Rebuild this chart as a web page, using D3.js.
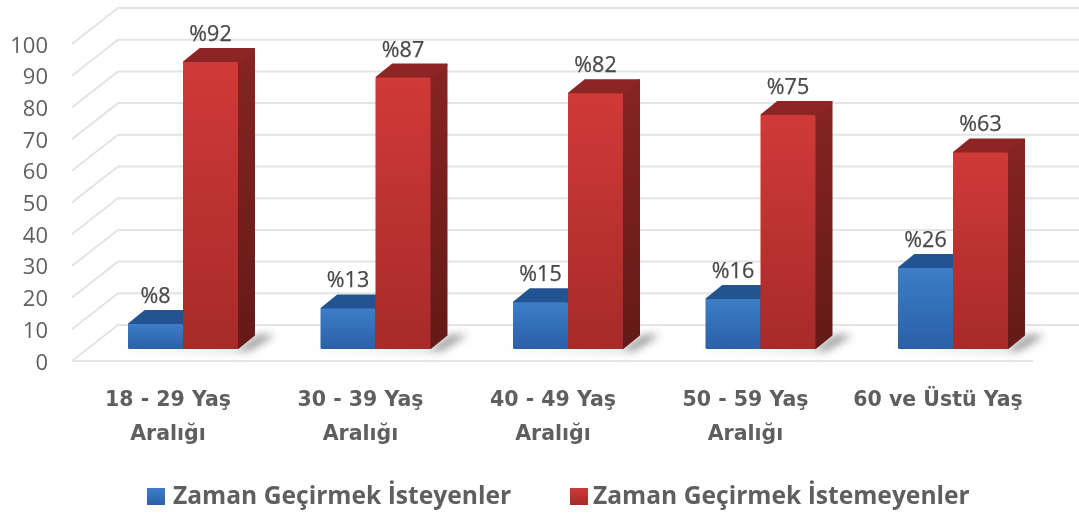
<!DOCTYPE html>
<html><head><meta charset="utf-8">
<script src="https://cdn.jsdelivr.net/npm/d3@7/dist/d3.min.js"></script>
<style>html,body{margin:0;padding:0;background:#fff;overflow:hidden}svg{display:block;filter:blur(.55px)}text{font-family:"Open Sans",sans-serif}</style>
</head><body><svg id="c" width="1079" height="513"></svg>
<script>
const categories=["18 - 29 Yaş|Aralığı","30 - 39 Yaş|Aralığı","40 - 49 Yaş|Aralığı","50 - 59 Yaş|Aralığı","60 ve Üstü Yaş"];
const seriesNames=["Zaman Geçirmek İsteyenler","Zaman Geçirmek İstemeyenler"];
const isteyenler=[8,13,15,16,26];
const istemeyenler=[92,87,82,75,63];
const ticks=[0,10,20,30,40,50,60,70,80,90,100];

const svg=d3.select("#c"),defs=svg.append("defs");
const W=1079,depthX=46,depthY=36,barDX=17,barDY=14;
const yFront=d3.scaleLinear().domain([0,100]).range([361,44]);
const yBar=d3.scaleLinear().domain([0,100]).range([349,37]);
const x=d3.scaleBand().domain(categories).range([86.75,1049.25]);
const barW=55;

function grad(id,stops,vert=true){const g=defs.append("linearGradient").attr("id",id).attr("x1",0).attr("y1",0).attr("x2",vert?0:1).attr("y2",vert?1:0);
 stops.forEach(([o,c])=>g.append("stop").attr("offset",o).attr("stop-color",c));}
grad("bf",[[0,"#3c7ec8"],[1,"#2a60a6"]]);grad("rf",[[0,"#d03a38"],[1,"#a62b29"]]);
grad("bs",[[0,"#1f4a85"],[1,"#1a3f73"]]);grad("rs",[[0,"#872422"],[1,"#631a18"]]);
const blur=defs.append("filter").attr("id","sh").attr("x","-40%").attr("y","-150%").attr("width","180%").attr("height","400%");
blur.append("feGaussianBlur").attr("stdDeviation",4.5);

// walls and gridlines
const grid=svg.append("g").attr("fill","none").attr("stroke","#e4e4e4").attr("stroke-width",2);
ticks.forEach(t=>{
 const yf=yFront(t),yb=yf-depthY;
 grid.append("path").attr("d",d3.line()([[72,yf],[72+depthX,yb],[W,yb]]));
});
grid.append("path").attr("d",d3.line()([[72,yFront(0)],[W-46,yFront(0)]]));

// y axis labels
const yAxis=d3.axisLeft(yFront).tickValues(ticks).tickSize(0).tickPadding(0);
const ya=svg.append("g").attr("transform","translate(48,1)").call(yAxis);
ya.select(".domain").remove();
ya.selectAll("text").attr("font-size",22).attr("fill","#5f5f5f").style("font-family",'"Open Sans",sans-serif');

// bars
const series=[{vals:isteyenler,off:-barW,f:"bf",s:"bs",t:"#245392"},{vals:istemeyenler,off:0,f:"rf",s:"rs",t:"#8c2523"}];
const barsG=svg.append("g");
categories.forEach((c,i)=>{
 const cx=x(c)+x.bandwidth()/2;
 const g=barsG.append("g");
 // floor shadow
 g.append("path").attr("filter","url(#sh)").attr("fill","#6a6a6a").attr("opacity",.75)
  .attr("d",d3.line()([[cx-barW-12,yBar(0)],[cx+barW,yBar(0)],[cx+barW+barDX+4,yBar(0)-barDY],[cx+barW+barDX+20,yBar(0)-barDY],[cx+barW+10,yBar(0)+2]]));
 series.forEach(se=>{
  const v=se.vals[i],x0=cx+se.off,x1=x0+barW,yt=yBar(v),yb=yBar(0);
  const face=(pts,fill)=>g.append("path").attr("fill",fill).attr("stroke",fill).attr("stroke-width",2).attr("stroke-linejoin","round").attr("d",d3.line()(pts)+"Z");
  face([[x1,yt],[x1+barDX-1,yt-barDY+1],[x1+barDX-1,yb-barDY],[x1,yb-1]],`url(#${se.s})`);
  face([[x0+1,yt],[x0+barDX,yt-barDY+1],[x1+barDX-1,yt-barDY+1],[x1,yt]],se.t);
  g.append("rect").attr("x",x0).attr("y",yt).attr("width",barW).attr("height",yb-yt).attr("rx",1.5).attr("fill",`url(#${se.f})`);
 });
});
// value labels
const lab=svg.append("g").attr("text-anchor","middle").attr("font-size",21.5).attr("fill","#484848").attr("stroke","#484848").attr("stroke-width",.25);
categories.forEach((c,i)=>{
 const cx=x(c)+x.bandwidth()/2;
 series.forEach(se=>{
  lab.append("text").attr("x",cx+se.off+barW/2).attr("y",yBar(se.vals[i])-21).text("%"+se.vals[i]);
 });
});
// category labels
const cl=svg.append("g").attr("text-anchor","middle").attr("font-size",20.5).attr("font-weight",700).attr("fill","#5f5f5f");
categories.forEach(c=>{
 const cx=x(c)+x.bandwidth()/2-15;
 c.split("|").forEach((l,k)=>cl.append("text").attr("x",cx).attr("y",406+k*34).style("font-family",'"DejaVu Sans",sans-serif').text(l));
});
// legend
const leg=svg.append("g");
[["url(#bf)",147,173],["url(#rf)",570,593]].forEach(([f,sx,tx],i)=>{
 leg.append("rect").attr("x",sx).attr("y",488).attr("width",18).attr("height",17).attr("fill",f);
 leg.append("text").attr("x",tx).attr("y",504).attr("font-size",24.6).attr("font-weight",700).attr("fill","#5f5f5f").text(seriesNames[i]);
});
</script></body></html>
